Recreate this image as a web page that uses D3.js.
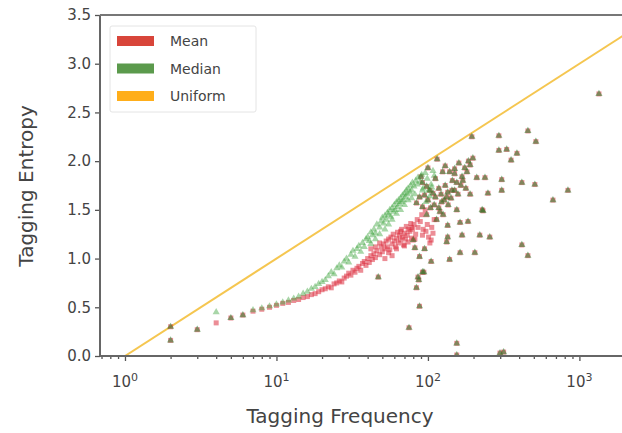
<!DOCTYPE html>
<html>
<head>
<meta charset="utf-8">
<script src="https://cdn.jsdelivr.net/npm/d3@7"></script>
<style>
  body { margin: 0; background: #fff; }
  svg text { font-family: "DejaVu Sans", sans-serif; fill: #444; }
</style>
</head>
<body>
<svg id="chart" width="622" height="433"></svg>
<script>
// frequencies where mean and median entropy differ
var freq = [2, 3, 4, 5, 6, 7, 8, 9, 10, 11, 12, 13, 14, 15, 16, 17, 18, 19, 20,
  21, 22, 23, 24, 25, 26, 27, 28, 29, 30, 31, 32, 33, 34, 35, 36, 37, 38, 39, 40,
  41, 42, 43, 44, 45, 46,
  48, 49, 50, 51, 52, 53, 54, 55, 56, 57, 58, 59, 60, 61, 62, 63, 64, 65, 66, 67,
  68, 69, 70, 71, 72, 73, 74,
  76, 77, 78, 79, 81, 83, 85, 86, 89, 91, 93, 96, 99, 101, 103, 105, 108, 110,
  42, 45, 48, 52, 55, 58, 62, 66, 70, 74, 78, 82, 92, 97, 106];
var meanEntropy = [0.16, 0.27, 0.34, 0.39, 0.42, 0.46, 0.48, 0.50, 0.52, 0.54, 0.55, 0.57, 0.58, 0.60, 0.61, 0.63, 0.64, 0.66, 0.68,
  0.69, 0.71, 0.70, 0.74, 0.75, 0.77, 0.76, 0.80, 0.82, 0.85, 0.83, 0.88, 0.86, 0.90, 0.92, 0.88, 0.95, 0.97, 0.93, 1.00,
  0.96, 1.03, 0.99, 1.05, 1.01, 1.08,
  1.04, 1.12, 1.07, 1.15, 1.10, 1.18, 1.12, 1.20, 1.09, 1.22, 1.15, 1.25, 1.18, 1.12, 1.21, 1.27, 1.16, 1.24, 1.19, 1.30,
  1.22, 1.14, 1.26, 1.20, 1.33, 1.24, 1.17,
  1.28, 1.36, 1.21, 1.30, 1.35, 1.25, 1.40, 1.32, 1.38, 1.45, 1.30, 1.50, 1.35, 1.22, 1.16, 1.19, 1.26, 1.40,
  1.10, 1.12, 1.16, 1.00, 1.06, 1.03, 1.10, 1.28, 1.13, 1.30, 1.32, 1.20, 1.24, 1.28, 1.32];
var medianEntropy = [0.16, 0.27, 0.45, 0.39, 0.42, 0.47, 0.49, 0.51, 0.53, 0.55, 0.57, 0.59, 0.61, 0.64, 0.66, 0.69, 0.71, 0.74, 0.76,
  0.78, 0.82, 0.86, 0.84, 0.90, 0.93, 0.91, 0.97, 1.00, 0.96, 1.04, 1.08, 1.02, 1.10, 1.13, 1.07, 1.16, 1.12, 1.20, 1.22,
  1.18, 1.27, 1.24, 1.30, 1.26, 1.35,
  1.32, 1.38, 1.42, 1.36, 1.44, 1.40, 1.47, 1.45, 1.50, 1.43, 1.52, 1.48, 1.55, 1.50, 1.58, 1.53, 1.60, 1.56, 1.62, 1.58,
  1.65, 1.60, 1.67, 1.63, 1.70, 1.66, 1.72,
  1.68, 1.75, 1.70, 1.78, 1.74, 1.80, 1.76, 1.83, 1.79, 1.86, 1.72, 1.88, 1.82, 1.70, 1.64, 1.76, 1.90, 1.85,
  1.15, 1.20, 1.25, 1.30, 1.35, 1.40, 1.46, 1.50, 1.55, 1.60, 1.62, 1.66, 1.70, 1.58, 1.73];

// frequencies where mean and median entropy coincide
var sharedFreq = [2, 47, 75, 84, 87, 88, 86, 92, 94, 88,
  82, 80, 90, 95, 105, 115, 198, 190, 181, 168,
  155, 144, 133, 123, 120, 114, 125, 139, 150, 103,
  108, 112, 98, 92, 88, 92, 84, 150, 160, 175,
  185, 170, 130, 118, 100, 128, 135, 145, 228, 249,
  238, 307, 307, 210, 190, 155, 163, 184, 220, 256,
  204, 163, 135, 133, 139, 135, 168, 155, 155, 299,
  316, 195, 294, 294, 331, 354, 387, 417, 417, 457,
  457, 508, 516, 669, 840, 1346, 231,
  110, 118, 126, 122, 136, 142, 150, 158, 165, 178,
  98, 104, 95, 112, 130, 100];
var sharedEntropy = [0.30, 0.81, 0.29, 0.70, 0.78, 0.51, 0.81, 0.86, 0.86, 1.02,
  1.11, 1.19, 1.84, 1.10, 0.97, 2.02, 2.03, 1.96, 1.89, 1.84,
  1.78, 1.70, 1.63, 1.58, 1.48, 1.40, 1.89, 1.89, 1.87, 1.70,
  1.67, 1.63, 1.74, 1.78, 1.63, 1.53, 1.57, 1.92, 1.98, 1.93,
  2.00, 1.80, 1.75, 1.72, 1.60, 1.60, 1.68, 1.80, 1.50, 1.67,
  1.83, 1.81, 1.70, 1.83, 1.66, 1.50, 1.37, 1.38, 1.24, 1.22,
  1.06, 1.06, 1.22, 1.17, 0.99, 1.34, 1.24, 0.13, 0.01, 0.03,
  0.04, 2.25, 2.26, 2.11, 2.12, 2.01, 2.08, 1.78, 1.14, 2.31,
  1.03, 1.76, 2.20, 1.60, 1.70, 2.69, 1.49,
  1.55, 1.52, 1.45, 1.66, 1.55, 1.62, 1.70, 1.66, 1.75, 1.72,
  1.45, 1.52, 1.65, 1.82, 1.95, 1.93];

var yTicks = [0.0, 0.5, 1.0, 1.5, 2.0, 2.5, 3.0, 3.5];
var xTicks = [1, 10, 100, 1000];
var legendNames = ["Mean", "Median", "Uniform"];
var legendColors = ["#d8453a", "#5b9a4c", "#ffae1a"];

var svg = d3.select("#chart");
var plotLeft = 100, plotRight = 625, plotTop = 15, plotBottom = 356;

var x = d3.scaleLog().domain([0.684, 2000]).range([plotLeft, plotRight]);
var y = d3.scaleLinear().domain([0, 3.5]).range([plotBottom, plotTop]);

var pts = freq.map(function(f, i) {
  return {f: f, mean: meanEntropy[i], median: medianEntropy[i]};
});
sharedFreq.forEach(function(f, i) {
  pts.push({f: f, mean: sharedEntropy[i], median: sharedEntropy[i]});
});

//clip the plot area
svg.append("defs").append("clipPath").attr("id", "clip")
  .append("rect").attr("x", plotLeft).attr("y", plotTop)
  .attr("width", plotRight - plotLeft).attr("height", plotBottom - plotTop);

var plot = svg.append("g").attr("clip-path", "url(#clip)");

//uniform line: entropy = log10(frequency)
var lineX = [1, 2000];
plot.append("path")
  .attr("d", d3.line().x(function(d) { return x(d); }).y(function(d) { return y(Math.log10(d)); })(lineX))
  .attr("stroke", "#f2b824").attr("stroke-opacity", 0.8)
  .attr("stroke-width", 2).attr("fill", "none");

//mean points as squares
plot.selectAll(".mean").data(pts).enter().append("rect")
  .attr("class", "mean")
  .attr("x", function(d) { return x(d.f) - 2.5; })
  .attr("y", function(d) { return y(d.mean) - 2.5; })
  .attr("width", 5).attr("height", 5)
  .attr("fill", "#dc3040").attr("fill-opacity", 0.55);

//median points as triangles
var tri = d3.symbol().type(d3.symbolTriangle).size(22);
plot.selectAll(".median").data(pts).enter().append("path")
  .attr("class", "median")
  .attr("d", tri)
  .attr("transform", function(d) { return "translate(" + x(d.f) + "," + y(d.median) + ")"; })
  .attr("fill", function(d) { return d.mean === d.median ? "#2c7d2c" : "#3da33d"; })
  .attr("fill-opacity", function(d) { return d.mean === d.median ? 0.55 : 0.45; });

//axes
var yAxis = d3.axisLeft(y).tickValues(yTicks).tickFormat(d3.format(".1f")).tickSize(5).tickPadding(4);
var gy = svg.append("g").attr("transform", "translate(" + plotLeft + ",0)").call(yAxis);

var xAxis = d3.axisBottom(x).tickValues(xTicks).tickFormat("").tickSize(5);
var gx = svg.append("g").attr("transform", "translate(0," + plotBottom + ")").call(xAxis);

var minor = [];
[0.1, 1, 10, 100, 1000].forEach(function(b) {
  for (var k = 2; k <= 9; k++) { if (b * k >= 0.684 && b * k <= 2000) minor.push(b * k); }
});
svg.append("g").attr("transform", "translate(0," + plotBottom + ")")
  .call(d3.axisBottom(x).tickValues(minor).tickFormat("").tickSize(3));

svg.selectAll(".domain").remove();
svg.selectAll(".tick line").attr("stroke", "#555").attr("stroke-width", 1.3);
gy.selectAll(".tick text").style("font-size", "15px").attr("fill", "#444");

//x tick labels with superscript
xTicks.forEach(function(t, i) {
  var lab = svg.append("text").attr("x", x(t)).attr("y", 387)
    .attr("text-anchor", "middle").style("font-size", "15px");
  lab.append("tspan").text("10");
  lab.append("tspan").attr("dy", -6).style("font-size", "11px").text(i);
});

//spines
svg.append("line").attr("x1", plotLeft).attr("x2", plotLeft).attr("y1", plotTop).attr("y2", plotBottom)
  .attr("stroke", "#666").attr("stroke-width", 2);
svg.append("line").attr("x1", plotLeft).attr("x2", 622).attr("y1", plotBottom).attr("y2", plotBottom)
  .attr("stroke", "#666").attr("stroke-width", 2);
svg.append("line").attr("x1", plotLeft).attr("x2", 622).attr("y1", plotTop).attr("y2", plotTop)
  .attr("stroke", "#777").attr("stroke-width", 2);

//axis titles
svg.append("text").attr("x", 340).attr("y", 423).attr("text-anchor", "middle")
  .style("font-size", "20px").text("Tagging Frequency");
svg.append("text").attr("transform", "translate(33,186) rotate(-90)")
  .attr("text-anchor", "middle").style("font-size", "20px").text("Tagging Entropy");

//legend
var lg = svg.append("g");
lg.append("rect").attr("x", 110).attr("y", 26).attr("width", 146).attr("height", 86)
  .attr("fill", "#fff").attr("stroke", "#e4e4e4").attr("rx", 2);
legendNames.forEach(function(n, i) {
  var yy = 41 + i * 27.5;
  lg.append("rect").attr("x", 117).attr("y", yy - 5).attr("width", 37).attr("height", 10)
    .attr("fill", legendColors[i]);
  lg.append("text").attr("x", 170).attr("y", yy + 5).style("font-size", "14px")
    .attr("fill", "#222").text(n);
});
</script>
</body>
</html>
